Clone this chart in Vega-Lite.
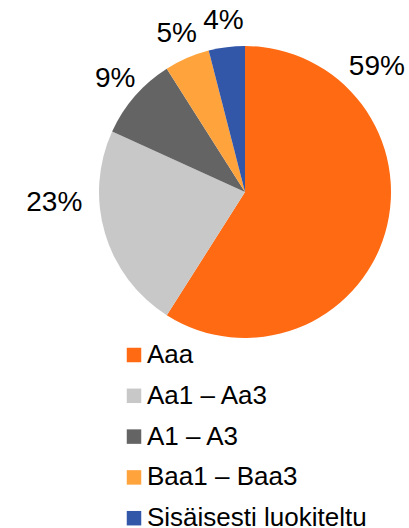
{
  "$schema": "https://vega.github.io/schema/vega-lite/v6.json",
  "width": 292,
  "height": 292,
  "autosize": {"type": "none"},
  "padding": {"left": 99, "top": 46, "right": 18, "bottom": 190},
  "background": "white",
  "config": {"view": {"stroke": null}, "font": "Liberation Sans"},
  "data": {
    "values": [
      {"cat": "Aaa", "share": 0.590, "rank": 1},
      {"cat": "Aa1 – Aa3", "share": 0.228, "rank": 2},
      {"cat": "A1 – A3", "share": 0.092, "rank": 3},
      {"cat": "Baa1 – Baa3", "share": 0.050, "rank": 4},
      {"cat": "Sisäisesti luokiteltu", "share": 0.040, "rank": 5}
    ]
  },
  "layer": [
    {
      "mark": {"type": "arc", "stroke": null},
      "encoding": {
        "theta": {"field": "share", "type": "quantitative", "stack": true},
        "order": {"field": "rank", "type": "quantitative"},
        "color": {
          "field": "cat",
          "type": "nominal",
          "sort": ["Aaa", "Aa1 – Aa3", "A1 – A3", "Baa1 – Baa3", "Sisäisesti luokiteltu"],
          "scale": {
            "domain": ["Aaa", "Aa1 – Aa3", "A1 – A3", "Baa1 – Baa3", "Sisäisesti luokiteltu"],
            "range": ["#FF6A13", "#C8C8C8", "#646464", "#FFA33D", "#3256A8"]
          },
          "legend": {
            "orient": "none",
            "legendX": 22,
            "legendY": 296,
            "title": null,
            "symbolType": "square",
            "symbolSize": 210,
            "symbolStrokeWidth": 0,
            "labelFontSize": 26,
            "labelFont": "Liberation Sans",
            "labelColor": "black",
            "rowPadding": 14.8,
            "labelOffset": 0,
            "padding": 0,
            "labelLimit": 400
          }
        }
      }
    },
    {
      "mark": {"type": "text", "radius": 172, "fontSize": 28, "font": "Liberation Sans", "color": "black", "baseline": "middle", "align": "center"},
      "encoding": {
        "theta": {"field": "share", "type": "quantitative", "stack": true},
        "order": {"field": "rank", "type": "quantitative"},
        "text": {"condition": {"test": "datum.rank > 2", "field": "share", "type": "quantitative", "format": ".0%"}, "value": ""}
      }
    },
    {
      "transform": [{"filter": "datum.rank == 1"}],
      "mark": {"type": "text", "theta": 0.81, "radius": 182, "fontSize": 28, "font": "Liberation Sans", "color": "black", "baseline": "middle", "align": "center"},
      "encoding": {
        "text": {"field": "share", "type": "quantitative", "format": ".0%"}
      }
    },
    {
      "transform": [{"filter": "datum.rank == 2"}],
      "mark": {"type": "text", "theta": 4.655, "radius": 191, "fontSize": 28, "font": "Liberation Sans", "color": "black", "baseline": "middle", "align": "center"},
      "encoding": {
        "text": {"field": "share", "type": "quantitative", "format": ".0%"}
      }
    }
  ]
}
